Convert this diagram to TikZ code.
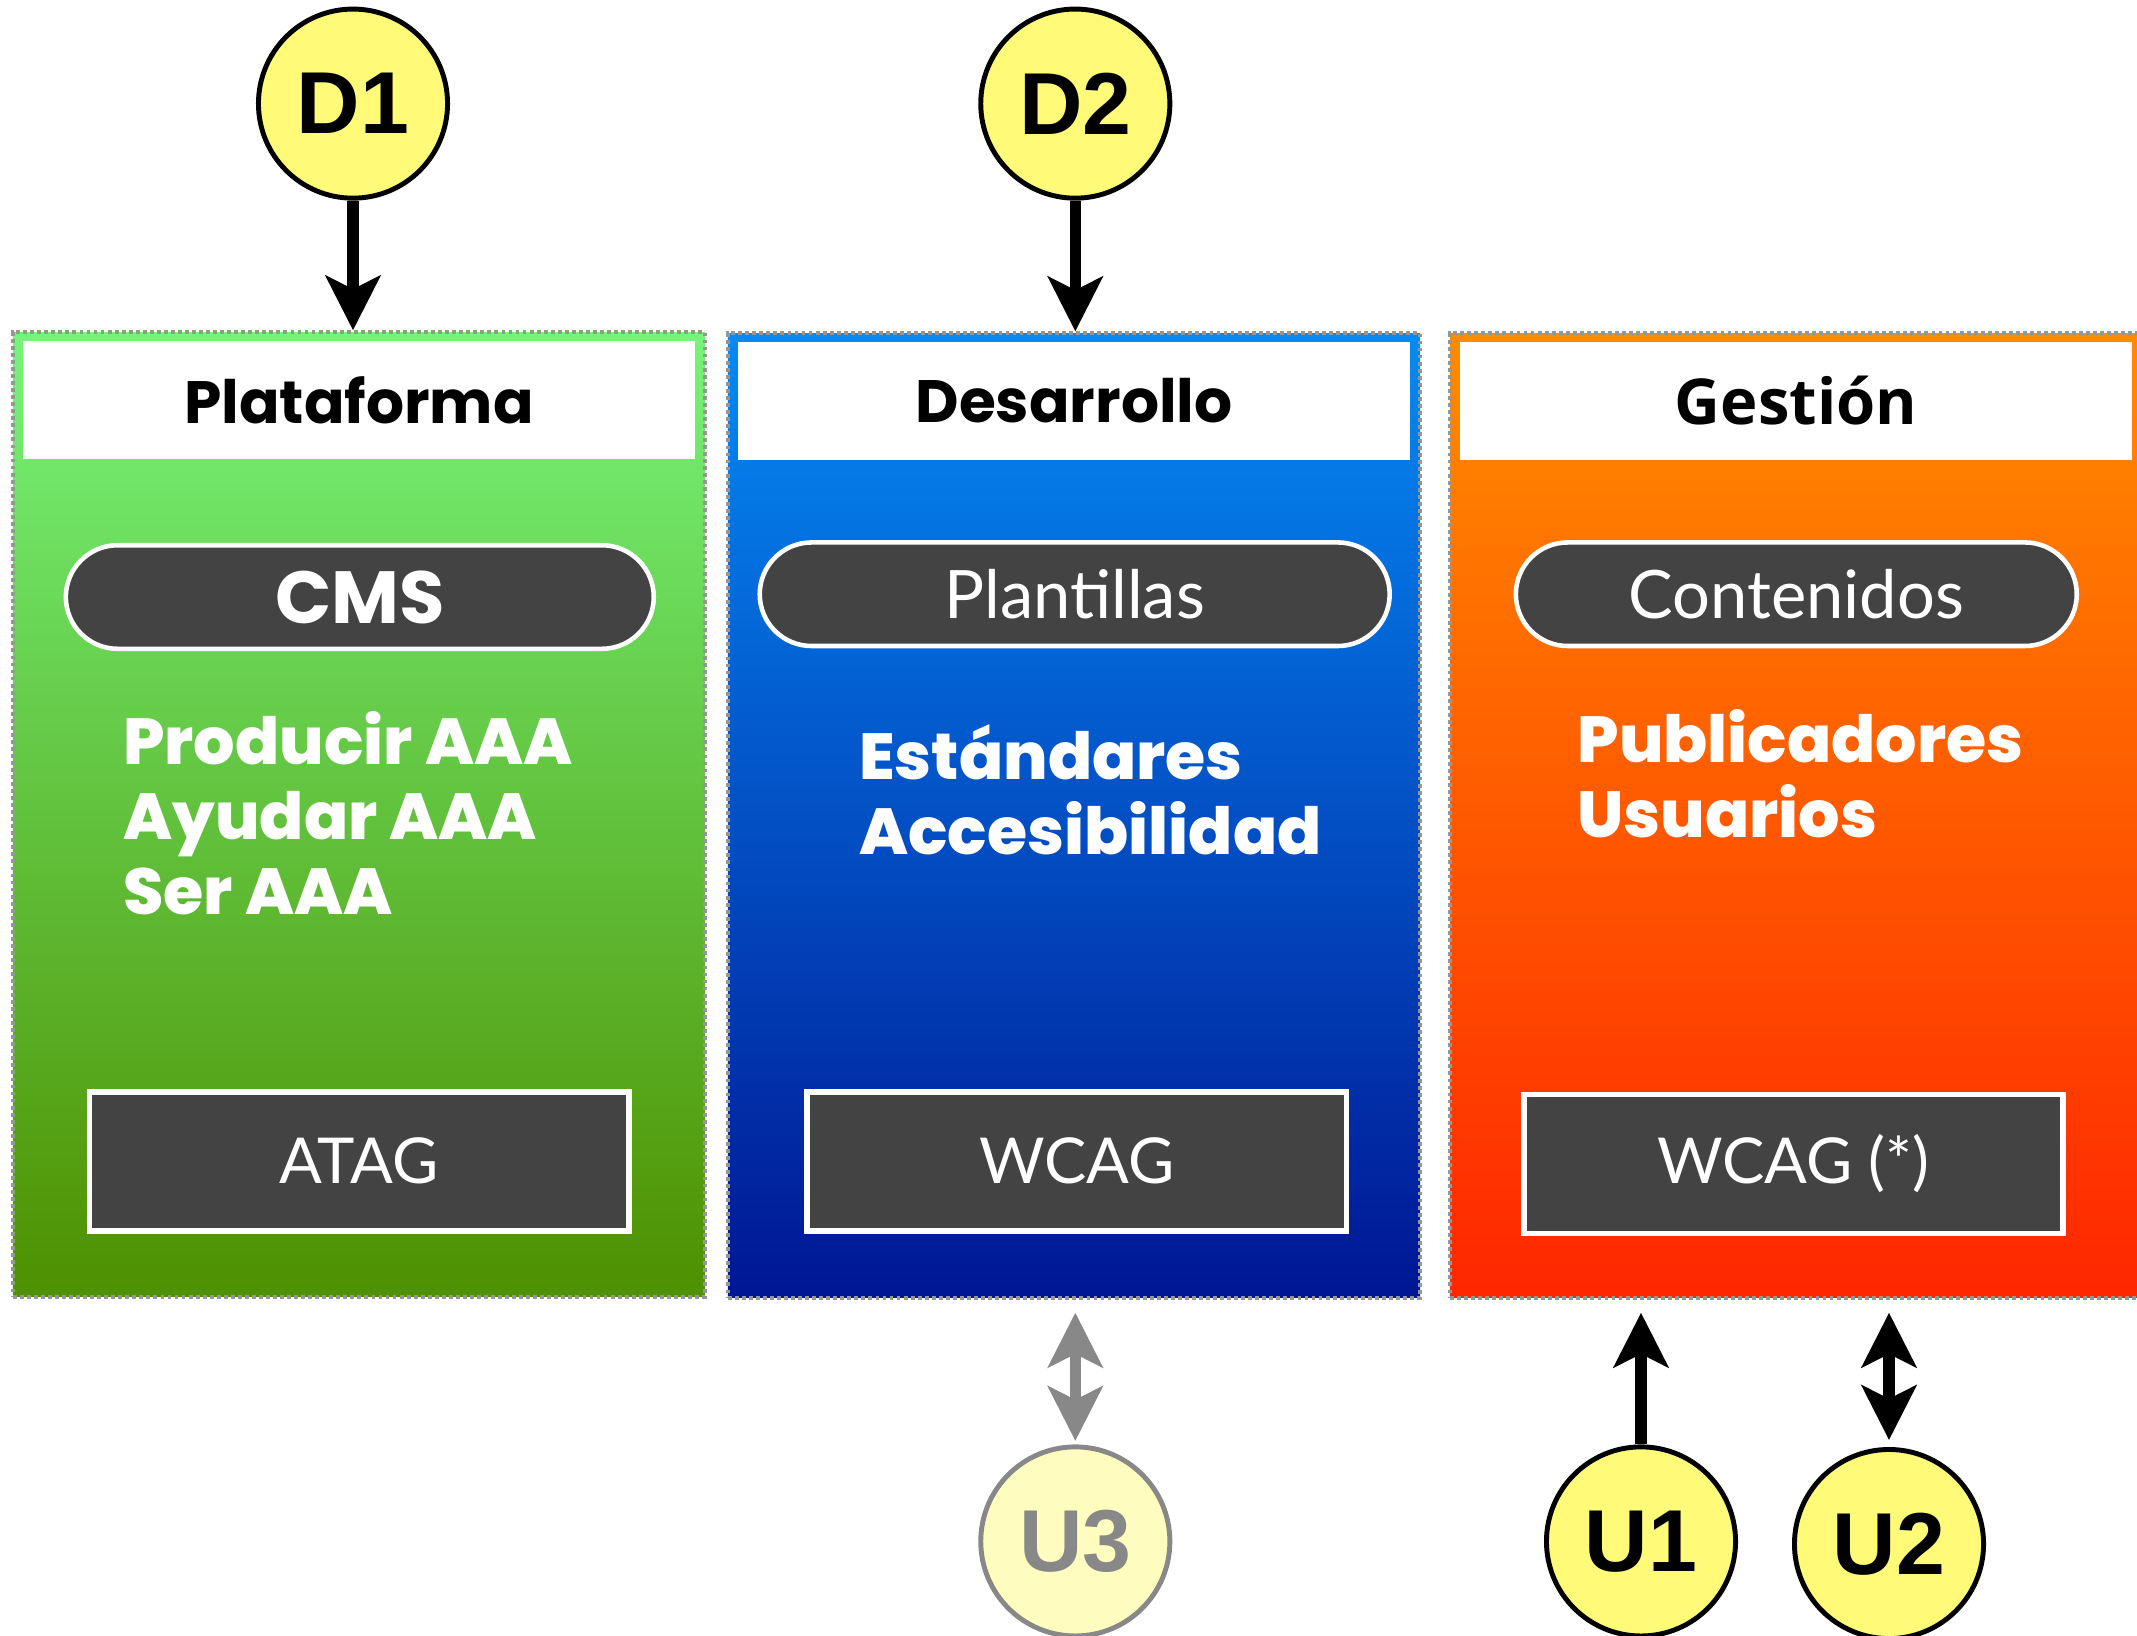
\documentclass[tikz,border=0pt]{standalone}
\usepackage{fontspec}
\setmainfont{Lato}
\newfontfamily\heavyfont{Poppins ExtraBold}
\newfontfamily\headfont{Poppins}
\newfontfamily\gestfont{Open Sans}
\newfontfamily\badgefont{Liberation Sans}
\usetikzlibrary{shapes.geometric, shapes.misc, arrows.meta, positioning}

\definecolor{darkbox}{RGB}{67,67,67}
\definecolor{dotgray}{RGB}{150,150,150}
\definecolor{badgeyellow}{RGB}{255,250,120}
\definecolor{paleyellow}{RGB}{255,252,192}
\definecolor{fadegray}{RGB}{136,136,136}
\definecolor{greentop}{RGB}{118,244,122}
\definecolor{greenbot}{RGB}{78,144,0}
\definecolor{bluetop}{RGB}{5,138,245}
\definecolor{bluebot}{RGB}{0,22,148}
\definecolor{orangetop}{RGB}{255,140,0}
\definecolor{orangebot}{RGB}{255,38,0}

\tikzstyle{arrow} = [line width=3.3pt,->,>={Stealth[length=15.5pt,width=15.5pt,inset=3.8pt]}]
\tikzstyle{dblarrow} = [arrow,<->]
\tikzstyle{panel} = [rectangle, draw=dotgray, line width=1.1pt, dash pattern=on 1.1pt off 0.9pt, minimum width=6.92cm, minimum height=9.64cm]
\tikzstyle{header} = [rectangle, fill=white, minimum width=6.71cm, minimum height=1.18cm, font=\headfont\bfseries\fontsize{17}{20}\selectfont]
\tikzstyle{pill} = [rounded rectangle, fill=darkbox, draw=white, line width=1.3pt, minimum height=1.035cm, text=white, font=\fontsize{19}{22}\selectfont]
\tikzstyle{stdbox} = [rectangle, fill=darkbox, draw=white, line width=1.6pt, minimum width=5.39cm, minimum height=1.39cm, text=white, font=\fontsize{18}{22}\selectfont]
\tikzstyle{items} = [anchor=west, align=left, inner sep=0pt, text=white, font=\heavyfont\fontsize{18.5}{21.3}\selectfont]
\tikzstyle{badge} = [circle, draw=black, line width=1.4pt, fill=badgeyellow, minimum size=1.89cm, inner sep=0pt, font=\badgefont\bfseries\fontsize{25}{30}\selectfont]

\begin{document}
\begin{tikzpicture}[x=0.01cm, y=-0.01cm]
\useasboundingbox (0,0) rectangle (2137,1635);

% Placement of panels
\node (plat) [panel, top color=greentop, bottom color=greenbot] at (359,814.5) {};
\node (desa) [panel, top color=bluetop, bottom color=bluebot] at (1074,815.5) {};
\node (gest) [panel, top color=orangetop, bottom color=orangebot] at (1796,815.5) {};

\node (platHead) [header, below=0.1cm of plat.north] {Plataforma};
\node (desaHead) [header, below=0.1cm of desa.north] {Desarrollo};
\node (gestHead) [header, below=0.1cm of gest.north, font=\gestfont\bfseries\fontsize{18}{20}\selectfont] {Gestión};

% Placement of nodes inside the panels
\node (cms) [pill, minimum width=6.11cm, font=\headfont\bfseries\fontsize{21}{24}\selectfont] at (359.8,597) {CMS};
\node (plant) [pill, minimum width=6.53cm] at (1074.7,594.2) {Plantillas};
\node (cont) [pill, minimum width=5.84cm] at (1796.3,594.2) {Contenidos};

\node (platItems) [items] at (122.7,813.5) {Producir AAA\\Ayudar AAA\\Ser AAA};
\node (desaItems) [items] at (858.6,789.5) {Estándares\\Accesibilidad};
\node (gestItems) [items] at (1576.9,774) {Publicadores\\Usuarios};

\node (atag) [stdbox] at (359.1,1161.2) {ATAG};
\node (wcag) [stdbox] at (1076.7,1161.2) {WCAG};
\node (wcagStar) [stdbox] at (1793.6,1164) {WCAG (*)};

% Placement of badges
\node (d1) [badge] at (353,103.6) {D1};
\node (d2) [badge] at (1075.3,103.6) {D2};
\node (u3) [badge, fill=paleyellow, draw=fadegray, text=fadegray] at (1075.3,1541.4) {U3};
\node (u1) [badge] at (1641,1541.4) {U1};
\node (u2) [badge] at (1889,1544) {U2};

% Placement of edges
\draw [arrow] (d1) -- (d1 |- plat.north);
\draw [arrow] (d2) -- (d2 |- desa.north);
\draw [dblarrow, fadegray, shorten >=3.7pt, shorten <=1pt] (u3) -- (u3 |- desa.south);
\draw [arrow, shorten >=3.7pt] (u1) -- (u1 |- gest.south);
\draw [dblarrow, shorten >=3.7pt, shorten <=2pt] (u2) -- (u2 |- gest.south);

\end{tikzpicture}
\end{document}
